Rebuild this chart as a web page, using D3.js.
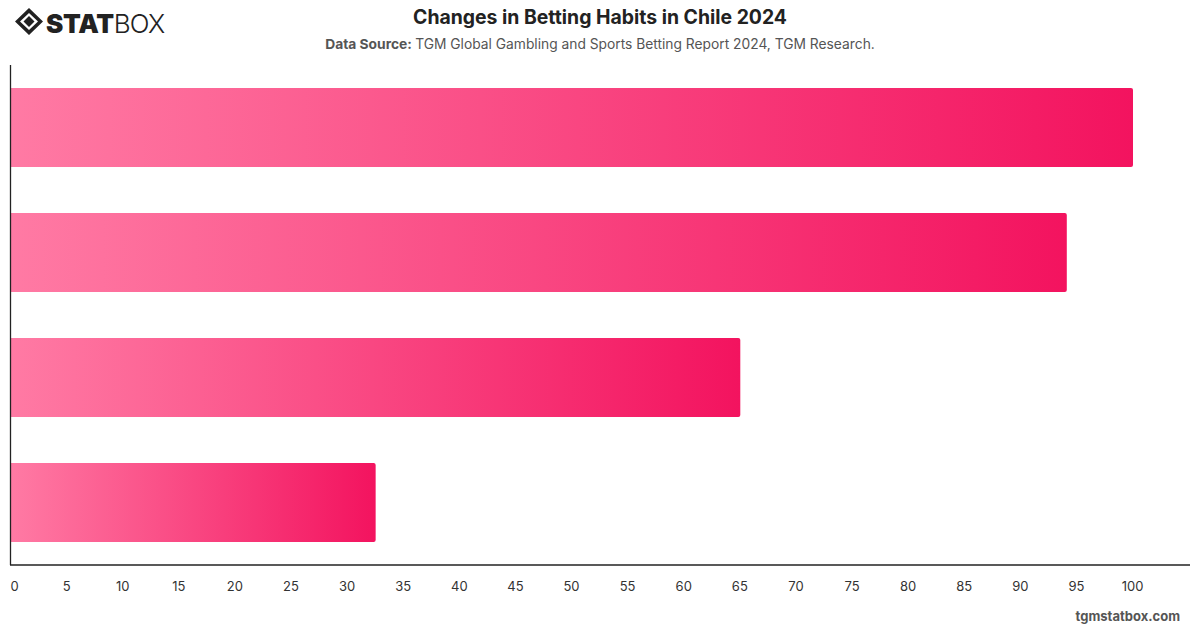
<!DOCTYPE html>
<html>
<head>
<meta charset="utf-8">
<script src="https://cdn.jsdelivr.net/npm/d3@7"></script>
<style>
  body { margin: 0; background: #fff; }
  svg { display: block; font-family: Inter, "Helvetica Neue", Arial, sans-serif; }
</style>
</head>
<body>
<svg id="chart" width="1200" height="628"></svg>
<script>
// values, top to bottom (the chart shows no category labels)
const categories = ["Bar 1", "Bar 2", "Bar 3", "Bar 4"];
const values = [100, 94.1, 65, 32.5];
const ticks = [0, 5, 10, 15, 20, 25, 30, 35, 40, 45, 50, 55, 60, 65, 70, 75, 80, 85, 90, 95, 100];

const width = 1200, height = 628;
const margin = {top: 65, right: 10, bottom: 63, left: 11};

const svg = d3.select("#chart");

const x = d3.scaleLinear()
    .domain([0, 100])
    .range([margin.left, 1133]);
const y = d3.scaleBand()
    .domain(categories)
    .range([margin.top, height - margin.bottom])
    .paddingInner(0.368)
    .paddingOuter(0.184);

// gradient per bar, light pink -> deep pink
const grad = svg.append("defs").append("linearGradient")
    .attr("id", "barGrad")
    .attr("x1", "0%").attr("x2", "100%").attr("y1", "0%").attr("y2", "0%");
grad.append("stop").attr("offset", "0%").attr("stop-color", "#ff7aa4");
grad.append("stop").attr("offset", "100%").attr("stop-color", "#f3135f");

// header
const title = svg.append("g");
title.append("text")
    .attr("x", 600).attr("y", 24)
    .attr("text-anchor", "middle")
    .attr("font-size", 19.4).attr("font-weight", 700)
    .attr("fill", "#222")
    .text("Changes in Betting Habits in Chile 2024");
const sub = title.append("text")
    .attr("x", 600).attr("y", 49)
    .attr("text-anchor", "middle")
    .attr("font-size", 13.8)
    .attr("fill", "#555");
sub.append("tspan").attr("font-weight", 700).text("Data Source: ");
sub.append("tspan").text("TGM Global Gambling and Sports Betting Report 2024, TGM Research.");

// logo
const logo = svg.append("g").attr("transform", "translate(15,8)");
logo.append("path")
    .attr("d", "M14,0 L28,13.5 L14,27 L0,13.5 Z M14,5 L5,13.5 L14,22 L23,13.5 Z")
    .attr("fill", "#222").attr("fill-rule", "evenodd");
logo.append("path")
    .attr("d", "M14,8 L19.5,13.5 L14,19 L8.5,13.5 Z")
    .attr("fill", "#222");
const logoText = logo.append("text")
    .attr("x", 31).attr("y", 25)
    .attr("font-size", 26)
    .attr("fill", "#222");
logoText.append("tspan").attr("font-weight", 900).attr("letter-spacing", -0.3).text("STAT");
logoText.append("tspan").attr("font-weight", 300).attr("letter-spacing", -0.8).text("BOX");

// bars
svg.append("g")
  .selectAll("path")
  .data(values)
  .join("path")
    .attr("fill", "url(#barGrad)")
    .attr("d", (d, i) => {
      const x0 = x(0), x1 = x(d), y0 = y(categories[i]), h = y.bandwidth(), r = 2;
      return "M" + x0 + "," + y0 +
        "H" + (x1 - r) + "Q" + x1 + "," + y0 + " " + x1 + "," + (y0 + r) +
        "V" + (y0 + h - r) + "Q" + x1 + "," + (y0 + h) + " " + (x1 - r) + "," + (y0 + h) +
        "H" + x0 + "Z";
    })
  .append("title")
    .text((d, i) => categories[i] + ": " + d);

// axes
const xAxis = svg.append("g")
    .attr("transform", "translate(0," + (height - margin.bottom) + ")")
    .call(d3.axisBottom(x).tickValues(ticks).tickSize(0).tickPadding(17).tickFormat(d3.format("d")));
xAxis.select(".domain").attr("stroke", "#222").attr("stroke-width", 1.3)
    .attr("d", "M10,0H1190");
xAxis.selectAll(".tick text")
    .attr("font-family", "Inter, Helvetica, Arial, sans-serif")
    .attr("font-size", 13).attr("fill", "#333")
    .attr("dx", d => d === 0 ? 3 : -1);

svg.append("line")
    .attr("x1", 10.5).attr("x2", 10.5)
    .attr("y1", margin.top).attr("y2", height - margin.bottom)
    .attr("stroke", "#222").attr("stroke-width", 1.3);

// watermark
svg.append("text")
    .attr("x", 1180).attr("y", 621)
    .attr("text-anchor", "end")
    .attr("font-size", 13).attr("font-weight", 700)
    .attr("fill", "#555")
    .text("tgmstatbox.com");
</script>
</body>
</html>
